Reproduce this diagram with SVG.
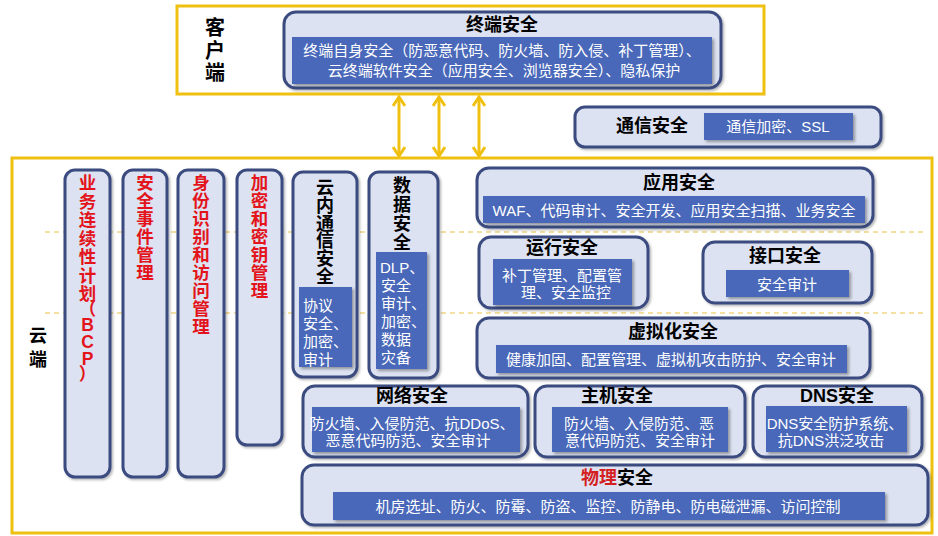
<svg xmlns="http://www.w3.org/2000/svg" width="938" height="536" viewBox="0 0 938 536">
<style>
text{font-family:"Liberation Sans","Noto Sans CJK SC",sans-serif}
.zone{fill:#fff;stroke:#F0C010;stroke-width:3}
.dash{stroke:#E8C040;stroke-width:1;stroke-dasharray:5 4;fill:none}
.node{fill:#DCE2F1;stroke:#3B4C80;stroke-width:3;filter:url(#sh)}
.inner{fill:#4A68B9;filter:url(#sh2)}
.h{font-size:18px;font-weight:bold;fill:#000;text-anchor:middle}
.hv{font-size:18px;font-weight:bold;fill:#000;text-anchor:middle}
.red{font-size:17.5px;font-weight:bold;fill:#E3141B;text-anchor:middle}
.t{font-size:15px;fill:#fff;text-anchor:middle}
.tl{font-size:15px;fill:#fff}
.lbl{font-weight:bold;fill:#000;text-anchor:middle}
.arr{stroke:#F0C010;stroke-width:3;fill:none;marker-start:url(#ah);marker-end:url(#ah)}
</style>
<defs>
<filter id="sh" x="-10%" y="-10%" width="130%" height="130%"><feDropShadow dx="1.5" dy="1.5" stdDeviation="1.2" flood-color="#000" flood-opacity="0.3"/></filter>
<filter id="sh2" x="-10%" y="-10%" width="130%" height="140%"><feDropShadow dx="2" dy="2" stdDeviation="1.5" flood-color="#000" flood-opacity="0.35"/></filter>
<marker id="ah" viewBox="0 0 12 14" refX="10" refY="7" markerWidth="12" markerHeight="14" markerUnits="userSpaceOnUse" orient="auto-start-reverse">
<path d="M1,1 L10,7 L1,13" fill="none" stroke="#F0C010" stroke-width="3"/>
</marker>
</defs>

<g id="client-zone">
<rect class="zone" x="177" y="6" width="587" height="88"/>
<text class="lbl" font-size="20" x="215"><tspan x="215" y="35">客</tspan><tspan x="215" y="57.5">户</tspan><tspan x="215" y="80">端</tspan></text>
</g>

<g id="cloud-zone">
<rect class="zone" x="12" y="158" width="920" height="375"/>
<line class="dash" x1="45" y1="232" x2="925" y2="232"/>
<line class="dash" x1="45" y1="313" x2="925" y2="313"/>
<text class="lbl" font-size="18"><tspan x="38" y="342">云</tspan><tspan x="38" y="366">端</tspan></text>
</g>

<g id="connectors">
<line class="arr" x1="399" y1="97" x2="399" y2="156"/>
<line class="arr" x1="439" y1="97" x2="439" y2="156"/>
<line class="arr" x1="479" y1="97" x2="479" y2="156"/>
</g>

<g id="terminal-security">
<rect class="node" x="284" y="12" width="437" height="76" rx="12"/>
<text class="h" x="502" y="31">终端安全</text>
<rect class="inner" x="292" y="37" width="420" height="47"/>
<text class="t" x="502" y="56">终端自身安全（防恶意代码、防火墙、防入侵、补丁管理）、</text>
<text class="t" x="504" y="76">云终端软件安全（应用安全、浏览器安全）、隐私保护</text>
</g>

<g id="comm-security">
<rect class="node" x="575" y="107" width="306" height="40" rx="10"/>
<text class="h" x="652" y="132">通信安全</text>
<rect class="inner" x="704" y="113" width="149" height="27"/>
<text class="t" x="778" y="132">通信加密、SSL</text>
</g>

<g id="bcp">
<rect class="node" x="65" y="170" width="45" height="307" rx="10"/>
<text class="red"><tspan x="87.5" y="189">业</tspan><tspan x="87.5" y="207.5">务</tspan><tspan x="87.5" y="226">连</tspan><tspan x="87.5" y="244.5">续</tspan><tspan x="87.5" y="263">性</tspan><tspan x="87.5" y="281.5">计</tspan><tspan x="87.5" y="300">划</tspan><tspan x="87.5" y="315">（</tspan><tspan x="87.5" y="331">B</tspan><tspan x="87.5" y="348">C</tspan><tspan x="87.5" y="365">P</tspan><tspan x="87.5" y="380">）</tspan></text>
</g>

<g id="incident-mgmt">
<rect class="node" x="123" y="170" width="44" height="307" rx="10"/>
<text class="red"><tspan x="145" y="189">安</tspan><tspan x="145" y="207">全</tspan><tspan x="145" y="225">事</tspan><tspan x="145" y="243">件</tspan><tspan x="145" y="261">管</tspan><tspan x="145" y="279">理</tspan></text>
</g>

<g id="iam">
<rect class="node" x="178" y="170" width="46" height="307" rx="10"/>
<text class="red"><tspan x="201" y="189">身</tspan><tspan x="201" y="207">份</tspan><tspan x="201" y="225">识</tspan><tspan x="201" y="243">别</tspan><tspan x="201" y="261">和</tspan><tspan x="201" y="279">访</tspan><tspan x="201" y="297">问</tspan><tspan x="201" y="315">管</tspan><tspan x="201" y="333">理</tspan></text>
</g>

<g id="key-mgmt">
<rect class="node" x="237" y="170" width="45" height="275" rx="10"/>
<text class="red"><tspan x="259.5" y="189">加</tspan><tspan x="259.5" y="207">密</tspan><tspan x="259.5" y="225">和</tspan><tspan x="259.5" y="243">密</tspan><tspan x="259.5" y="261">钥</tspan><tspan x="259.5" y="279">管</tspan><tspan x="259.5" y="297">理</tspan></text>
</g>

<g id="cloud-comm">
<rect class="node" x="293" y="172" width="64" height="205" rx="10"/>
<text class="hv"><tspan x="325" y="194">云</tspan><tspan x="325" y="211.8">内</tspan><tspan x="325" y="229.6">通</tspan><tspan x="325" y="247.4">信</tspan><tspan x="325" y="265.2">安</tspan><tspan x="325" y="283">全</tspan></text>
<rect class="inner" x="299" y="287" width="53" height="80"/>
<text class="tl"><tspan x="303" y="311">协议</tspan><tspan x="303" y="329">安全、</tspan><tspan x="303" y="347">加密、</tspan><tspan x="303" y="365">审计</tspan></text>
</g>

<g id="data-security">
<rect class="node" x="369" y="172" width="69" height="206" rx="10"/>
<text class="hv" font-size="19"><tspan x="402" y="192">数</tspan><tspan x="402" y="211">据</tspan><tspan x="402" y="230">安</tspan><tspan x="402" y="249">全</tspan></text>
<rect class="inner" x="376" y="252" width="51" height="117"/>
<text class="tl"><tspan x="380" y="273">DLP、</tspan><tspan x="381" y="291">安全</tspan><tspan x="381" y="309">审计、</tspan><tspan x="381" y="327">加密、</tspan><tspan x="381" y="345">数据</tspan><tspan x="381" y="363">灾备</tspan></text>
</g>

<g id="app-security">
<rect class="node" x="477" y="168" width="396" height="59" rx="12"/>
<text class="h" x="679" y="189">应用安全</text>
<rect class="inner" x="483" y="196" width="382" height="27"/>
<text class="t" x="674" y="215.5">WAF、代码审计、安全开发、应用安全扫描、业务安全</text>
</g>

<g id="ops-security">
<rect class="node" x="479" y="237" width="169" height="71" rx="12"/>
<text class="h" x="562" y="254">运行安全</text>
<rect class="inner" x="493" y="259" width="139" height="46"/>
<text class="t" x="562" y="280.5">补丁管理、配置管</text>
<text class="t" x="566" y="297.5">理、安全监控</text>
</g>

<g id="interface-security">
<rect class="node" x="703" y="242" width="169" height="61" rx="12"/>
<text class="h" x="785" y="262">接口安全</text>
<rect class="inner" x="726" y="270" width="123" height="27"/>
<text class="t" x="787" y="289.5">安全审计</text>
</g>

<g id="virt-security">
<rect class="node" x="477" y="318" width="393" height="60" rx="12"/>
<text class="h" x="673" y="338">虚拟化安全</text>
<rect class="inner" x="496" y="345" width="351" height="28"/>
<text class="t" x="671" y="364.5">健康加固、配置管理、虚拟机攻击防护、安全审计</text>
</g>

<g id="network-security">
<rect class="node" x="303" y="386" width="225" height="71" rx="12"/>
<text class="h" x="412" y="402">网络安全</text>
<rect class="inner" x="312" y="407" width="208" height="45"/>
<text class="t" x="412" y="428.5">防火墙、入侵防范、抗DDoS、</text>
<text class="t" x="408" y="445.5">恶意代码防范、安全审计</text>
</g>

<g id="host-security">
<rect class="node" x="535" y="386" width="210" height="71" rx="12"/>
<text class="h" x="617" y="402">主机安全</text>
<rect class="inner" x="552" y="407" width="176" height="45"/>
<text class="t" x="639" y="428.5">防火墙、入侵防范、恶</text>
<text class="t" x="640" y="445.5">意代码防范、安全审计</text>
</g>

<g id="dns-security">
<rect class="node" x="753" y="386" width="169" height="71" rx="12"/>
<text class="h" x="837" y="402">DNS安全</text>
<rect class="inner" x="766" y="406" width="141" height="46"/>
<text class="t" x="835" y="428.5">DNS安全防护系统、</text>
<text class="t" x="831" y="445.5">抗DNS洪泛攻击</text>
</g>

<g id="physical-security">
<rect class="node" x="302" y="465" width="626" height="60" rx="12"/>
<text class="h" x="617" y="484"><tspan fill="#D42020">物理</tspan>安全</text>
<rect class="inner" x="333" y="492" width="552" height="28"/>
<text class="t" x="608" y="511.5">机房选址、防火、防霉、防盗、监控、防静电、防电磁泄漏、访问控制</text>
</g>
</svg>
